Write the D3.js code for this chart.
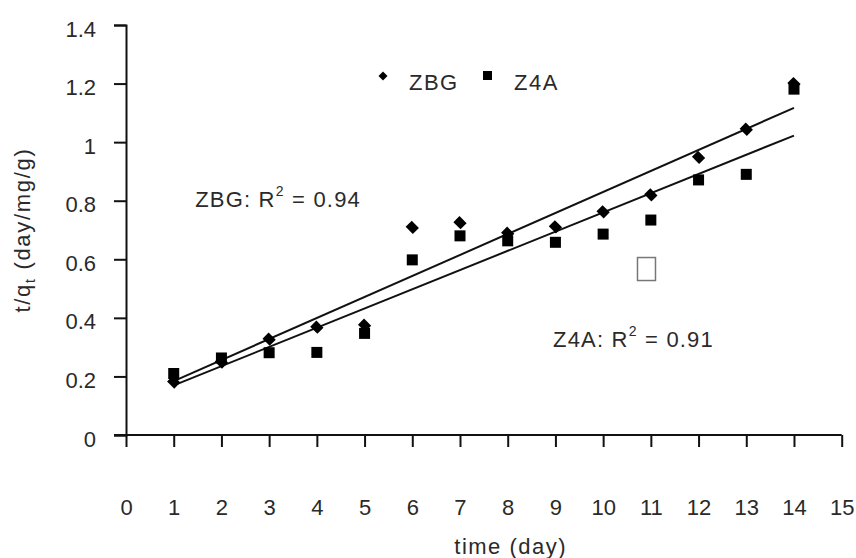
<!DOCTYPE html>
<html>
<head>
<meta charset="utf-8">
<script src="https://cdn.jsdelivr.net/npm/d3@7"></script>
<style>
  body { margin: 0; background: #fff; }
  text { font-family: "Liberation Sans", Arial, sans-serif; fill: #2a2a2a; }
</style>
</head>
<body>
<div id="chart"></div>
<script>
// data
const days = [1, 2, 3, 4, 5, 6, 7, 8, 9, 10, 11, 12, 13, 14]
const zbg = [0.181, 0.249, 0.327, 0.368, 0.375, 0.709, 0.725, 0.689, 0.711, 0.762, 0.820, 0.948, 1.044, 1.200]
const z4a = [0.210, 0.263, 0.281, 0.282, 0.347, 0.598, 0.680, 0.663, 0.658, 0.686, 0.734, 0.871, 0.890, 1.181]
const x_ticks = d3.range(0, 16)
const y_ticks = [0, 0.2, 0.4, 0.6, 0.8, 1, 1.2, 1.4]
const r2_labels = [
  { name: "ZBG", r2: "0.94", at: [1.45, 0.778] },
  { name: "Z4A", r2: "0.91", at: [8.95, 0.301] }
]

const width = 856, height = 558

const svg = d3.select("#chart")
  .append("svg")
  .attr("width", width)
  .attr("height", height)

const x = d3.scaleLinear().domain([0, 15]).range([126, 841.7])
const y = d3.scaleLinear().domain([0, 1.4]).range([435, 25])

// y axis
const yAxis = svg.append("g")
  .attr("transform", `translate(${x(0)},0)`)
  .call(d3.axisLeft(y).tickValues(y_ticks).tickSize(12).tickPadding(0).tickFormat(d3.format("")))
yAxis.select(".domain").attr("stroke", "#111").attr("stroke-width", 2)
yAxis.selectAll(".tick line").attr("stroke", "#111").attr("stroke-width", 2)
yAxis.selectAll(".tick text")
  .attr("x", -30)
  .attr("dy", "0.5em")
  .style("font-size", "22px")
  .style("font-family", "Liberation Sans, Arial, sans-serif")
  .attr("fill", "#2a2a2a")

// x axis
const xAxis = svg.append("g")
  .attr("transform", `translate(0,${y(0)})`)
  .call(d3.axisBottom(x).tickValues(x_ticks).tickSize(12).tickSizeOuter(0).tickPadding(0))
xAxis.select(".domain").attr("stroke", "#111").attr("stroke-width", 2)
  .attr("d", `M${x(0) - 12},0H${x(15)}`)
xAxis.selectAll(".tick line").attr("stroke", "#111").attr("stroke-width", 2)
xAxis.selectAll(".tick text")
  .attr("y", 80)
  .attr("dy", 0)
  .style("font-size", "22px")
  .style("font-family", "Liberation Sans, Arial, sans-serif")
  .attr("fill", "#2a2a2a")

// axis titles
svg.append("text")
  .attr("x", x(8) + 3)
  .attr("y", 554)
  .attr("text-anchor", "middle")
  .style("font-size", "22px")
  .style("letter-spacing", "1.5px")
  .text("time (day)")

const yTitle = svg.append("text")
  .attr("transform", `translate(30,230) rotate(-90)`)
  .attr("text-anchor", "middle")
  .style("font-size", "22px")
  .style("letter-spacing", "1.7px")
yTitle.append("tspan").text("t/q")
yTitle.append("tspan").text("t").style("font-size", "14px").attr("dy", 5)
yTitle.append("tspan").text(" (day/mg/g)").attr("dy", -5)

// least squares lines
const fit = (xs, ys) => {
  const mx = d3.mean(xs), my = d3.mean(ys)
  const slope = d3.sum(xs, (v, i) => (v - mx) * (ys[i] - my)) / d3.sum(xs, v => (v - mx) ** 2)
  return { slope: slope, intercept: my - slope * mx }
}

const line = d3.line().x(d => x(d[0])).y(d => y(d[1]))
for (const ys of [zbg, z4a]) {
  const f = fit(days, ys)
  const ends = d3.extent(days).map(d => [d, f.intercept + f.slope * d])
  svg.append("path")
    .attr("d", line(ends))
    .attr("fill", "none")
    .attr("stroke", "#111")
    .attr("stroke-width", 2)
}

// points
const diamond = d3.symbol().type(d3.symbolSquare).size(88)
svg.append("g").selectAll("path")
  .data(days.map((d, i) => [d, zbg[i]]))
  .join("path")
  .attr("d", diamond)
  .attr("transform", d => `translate(${x(d[0])},${y(d[1])}) rotate(45) scale(1.08,0.92)`)
  .attr("fill", "#000")

svg.append("g").selectAll("rect")
  .data(days.map((d, i) => [d, z4a[i]]))
  .join("rect")
  .attr("x", d => x(d[0]) - 5.5)
  .attr("y", d => y(d[1]) - 5.5)
  .attr("width", 11)
  .attr("height", 11)
  .attr("fill", "#000")

// legend
const legend = svg.append("g").attr("transform", "translate(383,76)")
legend.append("path")
  .attr("d", d3.symbol().type(d3.symbolSquare).size(40))
  .attr("transform", "rotate(45)")
  .attr("fill", "#000")
legend.append("text").attr("x", 26).attr("y", 14)
  .style("font-size", "22px").style("letter-spacing", "1.5px").text("ZBG")
legend.append("rect").attr("x", 100).attr("y", -5).attr("width", 9).attr("height", 9).attr("fill", "#000")
legend.append("text").attr("x", 131).attr("y", 14)
  .style("font-size", "22px").style("letter-spacing", "1.5px").text("Z4A")

// r squared labels
for (const lab of r2_labels) {
  const t = svg.append("text")
    .attr("x", x(lab.at[0]))
    .attr("y", y(lab.at[1]))
    .style("font-size", "22px")
    .style("letter-spacing", "1.2px")
  t.append("tspan").text(`${lab.name}: R`)
  t.append("tspan").text("2").style("font-size", "14px").attr("dy", -11)
  t.append("tspan").text(` = ${lab.r2}`).attr("dy", 11)
}

// missing glyph box left in the original
svg.append("rect")
  .attr("x", x(10.72))
  .attr("y", y(0.606))
  .attr("width", 18)
  .attr("height", 23)
  .attr("fill", "none")
  .attr("stroke", "#777")
  .attr("stroke-width", 1.5)
</script>
</body>
</html>
